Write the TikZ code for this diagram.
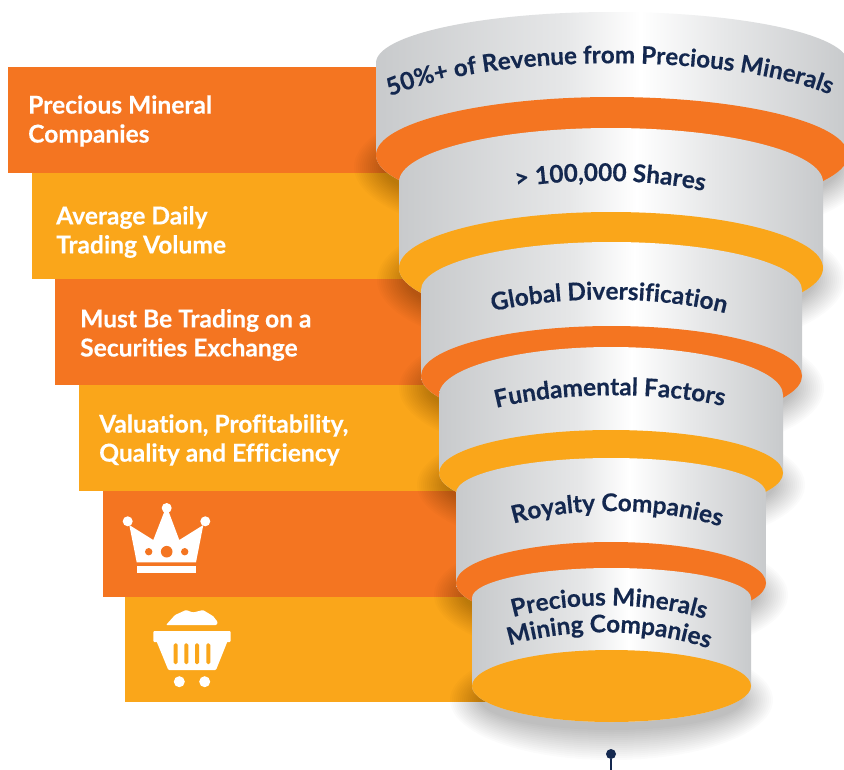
\documentclass[tikz,border=0pt]{standalone}
\usepackage{fontspec}
\setmainfont{Lato}[BoldFont={Lato Bold},BoldFeatures={FakeBold=0.35},Ligatures=NoCommon]
\usetikzlibrary{decorations.text}
\definecolor{fOrange}{HTML}{F47521}
\definecolor{fAmber}{HTML}{FAA61A}
\definecolor{fNavy}{HTML}{14284F}
\definecolor{gEdge}{HTML}{C8CACC}
\definecolor{gMid}{HTML}{E6E7E8}
\pgfdeclarehorizontalshading{bandshade}{100bp}{color(0bp)=(gEdge);color(25bp)=(gEdge);color(45bp)=(gMid);color(53bp)=(white);color(62bp)=(gMid);color(75bp)=(gEdge);color(100bp)=(gEdge)}
\newcommand{\softshadow}[5]{%
  \foreach \dd in {24,22,...,-6}{
    \pgfmathsetmacro{\rxx}{#2+\dd-2}
    \pgfmathsetmacro{\ryy}{#4+\dd}
    \fill[black,opacity=.014] (#1,#3+#5) ellipse [x radius=\rxx pt,y radius=\ryy pt];
  }}
\newcommand{\funnelband}[7]{%
  \path[shading=bandshade] (#1-#2,#3) arc[start angle=180,end angle=0,x radius=#2pt,y radius=#4pt]
    -- (#1+#2,#5) arc[start angle=0,end angle=-180,x radius=#2pt,y radius=#6pt] -- cycle;
  \fill[#7] (#1,#5) ellipse [x radius=#2pt,y radius=#6pt];}
\tikzset{
  stage/.style={inner sep=0,outer sep=0,minimum height=106pt,anchor=north west},
  lefttext/.style={anchor=west,align=left,text=white,inner sep=0,font=\fontsize{24.6}{29}\selectfont\bfseries},
}
\newcommand{\arcfontA}{\fontsize{24.2}{25}\selectfont\bfseries\color{fNavy}}
\newcommand{\arcfontB}{\fontsize{24.4}{25}\selectfont\bfseries\color{fNavy}}
\begin{document}
\begin{tikzpicture}[x=1pt,y=-1pt]
\clip (0,0) rectangle (844,769);
\fill[white] (0,0) rectangle (844,769);
% stages
\node[stage,fill=fOrange,minimum width=482pt] (r1) at (8,67) {};
\node[stage,fill=fAmber,minimum width=458pt] (r2) at (32,173) {};
\node[stage,fill=fOrange,minimum width=435pt] (r3) at (55,279) {};
\node[stage,fill=fAmber,minimum width=411pt] (r4) at (79,385) {};
\node[stage,fill=fOrange,minimum width=387pt] (r5) at (103,491) {};
\node[stage,fill=fAmber,minimum width=365pt,minimum height=105pt] (r6) at (125,597) {};
% left labels
\node[lefttext] (t1) at (28,121) {Precious Mineral\\Companies};
\node[lefttext] (t2) at (56,232) {Average Daily\\Trading Volume};
\node[lefttext] (t3) at (80,335) {Must Be Trading on a\\Securities Exchange};
\node[lefttext] (t4) at (99,440) {Valuation, Profitability,\\Quality and Efficiency};
% crown
\fill[white] (129.3,525) -- (153.3,540) -- (164.3,511.7) -- (168.7,511.7) -- (179.3,540) -- (203.3,525) -- (196,562.3) -- (136.7,562.3) -- cycle;
\fill[white] (127.7,521.3) circle [radius=5pt] (166.7,508) circle [radius=5pt] (205.3,521.3) circle [radius=5pt];
\fill[fOrange] (148.7,551.7) circle [radius=3.7pt] (166.7,551.7) circle [radius=5.8pt] (184.7,551.7) circle [radius=3.7pt];
\fill[white] (136.7,566) rectangle (196,572.7);
% basket
\fill[white,rounded corners=1pt] (166,625) -- (175,615) -- (186,610) -- (193,612.5) -- (203,610) -- (213,616) -- (217.7,622) -- (216.7,625) -- cycle;
\fill[white,rounded corners=1pt] (153.3,631) rectangle (230.7,642);
\fill[white,rounded corners=1pt] (156,640) -- (228,640) -- (216,670) -- (168.3,670) -- cycle;
\fill[fAmber,rounded corners=1.5pt] (173.7,643.3) rectangle (177.7,664) (184.3,643.3) rectangle (188.3,664) (195,643.3) rectangle (199,664) (206.3,643.3) rectangle (210.3,664);
\fill[white] (179.3,681.7) circle [radius=5.5pt] (204.7,681.7) circle [radius=5.5pt];
% shadows
\softshadow{612}{236}{155}{58}{12}
\softshadow{611}{212}{268}{56}{12}
\softshadow{611.5}{190.5}{376}{50}{12}
\softshadow{611}{172}{473}{43}{12}
\softshadow{611}{155}{583}{41}{12}
\softshadow{611.5}{139.5}{686}{36}{14}
% funnel bands
\funnelband{612}{236}{63}{51}{155}{58}{fOrange}
\funnelband{611}{212}{182}{54}{268}{56}{fAmber}
\funnelband{611.5}{190.5}{290}{48}{376}{50}{fOrange}
\funnelband{611}{172}{395}{48}{473}{43}{fAmber}
\funnelband{611}{155}{493}{35}{583}{41}{fOrange}
\funnelband{611.5}{139.5}{598}{30}{686}{36}{fAmber}
% curved labels
\path[decorate,decoration={text along path,text align=center,text={|\arcfontA|50{\%}+ of Revenue from Precious Minerals}}] (380,101) .. controls (480,51) and (740,51) .. (840,99);
\path[decorate,decoration={text along path,text align=center,text={|\arcfontB|> 100,000 Shares}}] (512,188) .. controls (570,178) and (650,178) .. (708,192);
\path[decorate,decoration={text along path,text align=center,text={|\arcfontB|Global Diversification}}] (490,312) .. controls (560,295) and (660,295) .. (728,314);
\path[decorate,decoration={text along path,text align=center,text={|\arcfontB|Fundamental Factors}}] (492,409) .. controls (560,391) and (660,391) .. (728,407);
\path[decorate,decoration={text along path,text align=center,text={|\arcfontB|Royalty Companies}}] (509,525) .. controls (570,506) and (660,506) .. (725,528);
\path[decorate,decoration={text along path,text align=center,text={|\arcfontB|Precious Minerals}}] (510,618) .. controls (570,601) and (650,601) .. (708,620);
\path[decorate,decoration={text along path,text align=center,text={|\arcfontB|Mining Companies}}] (505,647) .. controls (565,627) and (650,627) .. (713,650);
% pin
\node[circle,fill=fNavy,inner sep=0,minimum size=10pt] (pin) at (611,754) {};
\coordinate (pinend) at (611,772);
\draw[fNavy,line width=2pt] (pin) -- (pinend);
\end{tikzpicture}
\end{document}
